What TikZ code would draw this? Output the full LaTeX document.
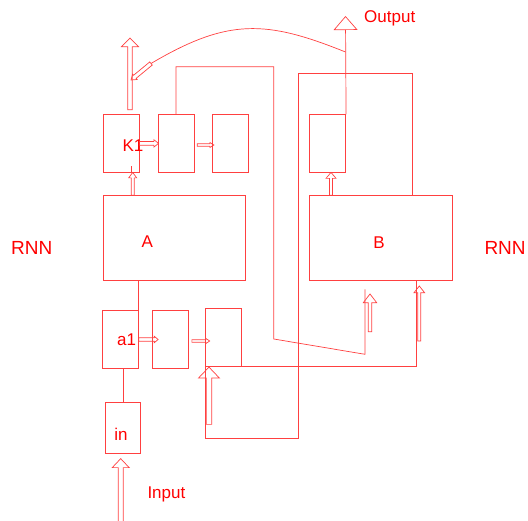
\documentclass[tikz,border=0pt]{standalone}
\usepackage{fontspec}
\setmainfont{Liberation Sans}
\usetikzlibrary{calc,arrows.meta}

\tikzset{
  shaftw/.store in=\shaftw, headw/.store in=\headw, headl/.store in=\headl,
  shaftw=2pt, headw=4pt, headl=5pt,
  hollow/.style={to path={
    ($(\tikztostart)!\shaftw!90:(\tikztotarget)$)
    -- ($(\tikztotarget)!\headl!(\tikztostart)!\shaftw!90:(\tikztotarget)$)
    -- ($(\tikztotarget)!\headl!(\tikztostart)!\headw!90:(\tikztotarget)$)
    -- (\tikztotarget)
    -- ($(\tikztotarget)!\headl!(\tikztostart)!\headw!-90:(\tikztotarget)$)
    -- ($(\tikztotarget)!\headl!(\tikztostart)!\shaftw!-90:(\tikztotarget)$)
    -- ($(\tikztostart)!\shaftw!-90:(\tikztotarget)$)
    -- cycle}}
}

\begin{document}
\begin{tikzpicture}[x=1pt,y=-1pt,font=\fontsize{17}{20}\selectfont,text=red,
  wire/.style={draw=red!75,line width=0.7pt},
  box/.style={wire,inner sep=0pt,minimum width=36pt,minimum height=57.3pt},
  lbl/.style={inner sep=0pt,anchor=base west}]
  \useasboundingbox (0,0) rectangle (528,521);

  \node[box, label={[xshift=12pt,yshift=-2.6pt]center:K1}] (k1) at (121,143.4) {};
  \node[box] (k2) at (175.9,143.4) {};
  \node[box] (k3) at (229.9,143.4) {};
  \node[box] (bout) at (327.7,143.4) {};
  \node[box, minimum width=142.3pt, minimum height=85pt, label={[xshift=-27pt,yshift=-3pt]center:A}] (A) at (174.2,238.2) {};
  \node[box, minimum width=142.6pt, minimum height=85pt, label={[xshift=-2pt,yshift=-4pt]center:B}] (B) at (381,238.2) {};
  \node[box, minimum height=57.6pt, label={[xshift=6.4pt]center:a1}] (a1) at (120.3,339.5) {};
  \node[box, minimum height=57.6pt] (a2) at (170.5,339.5) {};
  \node[box, minimum height=57.7pt] (a3) at (223.7,337.2) {};
  \node[box, minimum width=35.4pt, minimum height=51pt, label={[xshift=-2pt,yshift=-6.5pt]center:in}] (in) at (123,427.8) {};

  \node[lbl, font=\fontsize{19}{22}\selectfont] (rnnl) at (11,254.7) {RNN};
  \node[lbl, font=\fontsize{19}{22}\selectfont] (rnnr) at (484.3,254.7) {RNN};
  \node[lbl] (outlbl) at (364,22.7) {Output};
  \node[lbl] (inlbl) at (147.3,498.3) {Input};

  \coordinate (out) at (345.5,16);
  \coordinate (fb) at (345.5,52);
  \coordinate (fe) at (151,63.5);
  \coordinate (fk) at (131,80);
  \coordinate (kout) at (130,38);
  \coordinate (u1) at (370,294);
  \coordinate (u2) at (419.3,286);

  \draw[wire] (in.north) -- (in.north |- a1.south);
  \draw[wire] (a1.north east) -- (a1.north east |- A.south);
  \draw[wire,hollow,shaftw=1.7pt,headw=3.3pt,headl=4pt] (a1.east) to ($(a2.west)+(6,0)$);
  \draw[wire,hollow,shaftw=1.3pt,headw=2.7pt,headl=4pt] ($(a2.east)+(3,1.5)$) to ($(a3.west |- a2.east)+(4.3,1.5)$);
  \draw[wire,hollow,shaftw=1.8pt,headw=3.7pt,headl=4.7pt] (k1.east) to ($(k2.west)+(1,0)$);
  \draw[wire,hollow,shaftw=1.3pt,headw=2.5pt,headl=4pt] ($(k2.east)+(3,1.6)$) to ($(k3.west)+(2.3,1.6)$);
  \draw[wire,hollow,shaftw=1.5pt,headw=4pt,headl=5.5pt] ($(A.north -| k1.south)+(11.7,0)$) to ($(k1.south)+(11.7,0)$);
  \draw[wire] ($(k1.south)+(10.7,0)$) -- ++(0,-6.5);
  \draw[wire,hollow,shaftw=2.3pt,headw=8.5pt,headl=8.7pt] ($(k1.north -| kout)+(0,-4.7)$) to (kout);
  \draw[wire,hollow,shaftw=1.5pt,headw=5pt,headl=6pt] ($(B.north -| bout.south)+(3.3,0)$) to ($(bout.south)+(3.3,0)$);

  \draw[wire,-{Triangle[open,length=14pt,width=24pt]}] (bout.north east) -- (out);
  \draw[wire] (fb) .. controls (266,20) and (228,18) .. (fe);
  \draw[wire,hollow,shaftw=2pt,headw=3.5pt,headl=5pt] (fe) to (fk);

  \draw[wire] (a3.south west) |- (298.3,438.3) |- (412.7,73.3) -- (412.7,0 |- B.north);
  \draw[wire] (a3.south east) -| (416,0 |- B.south);
  \draw[wire] (k2.north) |- (273.7,66.7) -- (273.7,339) -- (365,354.3) -- (365,289.3);

  \draw[wire,hollow,shaftw=1.7pt,headw=6.7pt,headl=8.7pt] ($(u1)+(0,37.7)$) to (u1);
  \draw[wire,hollow,shaftw=1.5pt,headw=5.3pt,headl=6.7pt] ($(u2)+(0,55)$) to (u2);
  \draw[wire,hollow,shaftw=2.7pt,headw=10.5pt,headl=11pt] ($(a3.south west)+(3.6,58)$) to ($(a3.south west)+(3.6,0.7)$);
  \draw[wire,hollow,shaftw=2.5pt,headw=8.5pt,headl=9pt] ($(in.south)+(-2.3,71)$) to ($(in.south)+(-2.3,5)$);
\end{tikzpicture}
\end{document}
